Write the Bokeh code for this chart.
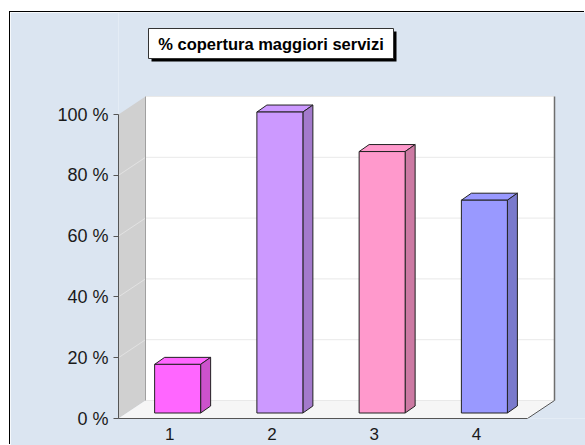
from bokeh.plotting import figure
from bokeh.models import Range1d, FixedTicker, PrintfTickFormatter, Label
from bokeh.embed import file_html
from bokeh.resources import INLINE

# ---- data ----
categories = ["1", "2", "3", "4"]
values = [16, 99, 86, 70]
front_colors = ["#ff66ff", "#cc99ff", "#ff99cc", "#9999ff"]
side_colors = ["#cc52cc", "#a37acc", "#cc7aa3", "#7a7acc"]
y_ticks = [0, 20, 40, 60, 80, 100]
title_text = "% copertura maggiori servizi"

# ---- layout constants (pixels) ----
OX, OY = 10, 12            # canvas offset on page
W, H = 585 - OX, 445 - OY
PX = 102.25                # px per category unit
PY = 3.04                  # px per percent
AX_X, AX_Y = 118, 418      # page position of y-axis line / x-axis line
BL = AX_X - OX
BB = H - (AX_Y - OY)
FRAME_W = W - BL
FRAME_H = AX_Y - OY

def X(px):  # page x -> data x
    return 0.5 + (px - AX_X) / PX

def Y(py):  # page y -> data y
    return (AX_Y - py) / PY

WDX, WDY = 27 / PX, 18 / PY      # wall depth
SX, SY = 8 / PX, 5.5 / PY        # bar front plane shift
BDX, BDY = 10 / PX, 7 / PY       # bar depth
BW = 46 / PX

p = figure(width=W, height=H, output_backend="svg", toolbar_location=None,
           x_range=Range1d(0.5, 0.5 + FRAME_W / PX),
           y_range=Range1d(0, FRAME_H / PY),
           min_border_left=BL, min_border_bottom=BB, min_border_right=0, min_border_top=0,
           margin=(OY, 0, 0, OX), styles={"box-shadow": "-1px -1px 0 0 #000000"})
p.border_fill_color = "#dbe5f1"
p.background_fill_color = "#dbe5f1"
p.outline_line_color = None
p.grid.visible = False

x0, x1 = 0.5, 0.5 + len(categories)
# left wall
p.patch([x0, x0, x0 + WDX, x0 + WDX], [0, 100, 100 + WDY, WDY],
        fill_color="#d0d0d0", line_color=None)
# floor
p.patch([x0, x1, x1 + WDX, x0 + WDX], [0, 0, WDY, WDY],
        fill_color="#f6f6f6", line_color=None)
# back wall
p.quad(left=[x0 + WDX], right=[x1 + WDX], bottom=[WDY], top=[100 + WDY],
       fill_color="white", line_color=None)
# back gridlines
for v in y_ticks:
    p.line([x0 + WDX, x1 + WDX], [v + WDY, v + WDY], line_color="#e9e9e9", line_width=1)
# left wall diagonals
for v in y_ticks[1:-1]:
    p.line([x0, x0 + WDX], [v, v + WDY], line_color="#e2e2e2", line_width=1)
p.line([x0 + WDX, x0 + WDX], [WDY, 100 + WDY], line_color="#a0a0a0", line_width=1)
p.line([x1 + WDX, x1 + WDX], [WDY, 100 + WDY], line_color="#6e6e6e", line_width=1.5)
p.line([x1, x1 + WDX], [0, WDY], line_color="#555555", line_width=1)

# bars
cx = [i + 1 for i in range(len(categories))]
lefts = [c + SX - BW / 2 for c in cx]
rights = [c + SX + BW / 2 for c in cx]
tops = [v + SY for v in values]
p.patches([[l, l + BDX, r + BDX, r] for l, r in zip(lefts, rights)],
          [[t, t + BDY, t + BDY, t] for t in tops],
          fill_color=front_colors, line_color="#222222", line_width=1)
p.patches([[r, r, r + BDX, r + BDX] for r in rights],
          [[SY, t, t + BDY, SY + BDY] for t in tops],
          fill_color=side_colors, line_color="#222222", line_width=1)
p.quad(left=lefts, right=rights, bottom=[SY] * len(values), top=tops,
       fill_color=front_colors, line_color="#222222", line_width=1)

# title box
p.quad(left=[X(151)], right=[X(396)], top=[Y(31)], bottom=[Y(61)],
       fill_color="black", line_color=None)
p.quad(left=[X(148)], right=[X(393)], top=[Y(28)], bottom=[Y(58)],
       fill_color="white", line_color="#333333", line_width=1)
p.add_layout(Label(x=X(270.5), y=Y(43), text=title_text, text_align="center",
                   text_baseline="middle", text_font="Liberation Sans", text_font_style="bold",
                   text_font_size="16.5px", text_color="black"))

# axes
xa = p.xaxis[0]
xa.ticker = FixedTicker(ticks=cx)
xa.major_label_overrides = {c: lab for c, lab in zip(cx, categories)}
xa.bounds = (x0, x1)
xa.axis_line_color = "#555555"
xa.major_tick_line_color = None
xa.minor_tick_line_color = None
xa.major_label_standoff = 3
xa.major_label_text_font = "Liberation Sans"
xa.major_label_text_font_size = "17px"
xa.major_label_text_color = "#1a1a1a"

ya = p.yaxis[0]
ya.ticker = FixedTicker(ticks=y_ticks)
ya.formatter = PrintfTickFormatter(format="%d %%")
ya.bounds = (0, 100)
ya.axis_line_color = "#555555"
ya.major_tick_line_color = "#555555"
ya.major_tick_in = 0
ya.major_tick_out = 5
ya.minor_tick_line_color = None
ya.major_label_standoff = 5
ya.major_label_text_font = "Liberation Sans"
ya.major_label_text_font_size = "18px"
ya.major_label_text_color = "#1a1a1a"

open("out.html", "w").write(file_html(p, INLINE))
